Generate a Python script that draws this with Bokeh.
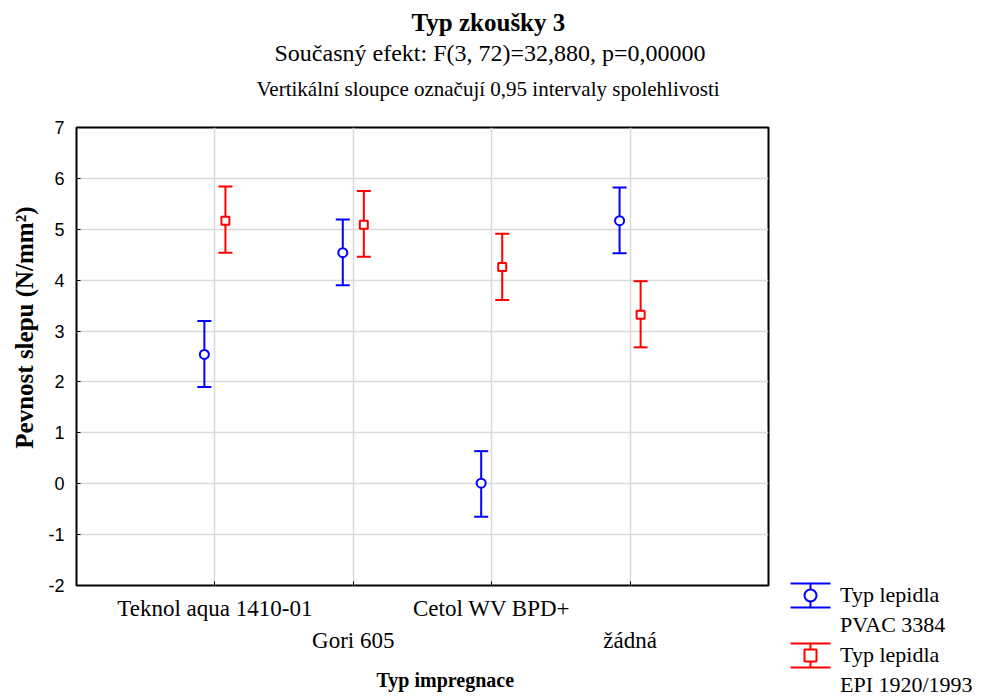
from bokeh.plotting import figure
from bokeh.models import (Range1d, LinearAxis, FixedTicker, Whisker, TeeHead, Title,
                          ColumnDataSource, Grid, Legend, LegendItem)
from bokeh.transform import dodge
from bokeh.embed import file_html
from bokeh.resources import INLINE

# ---------------- data ----------------
categories = ["Teknol aqua 1410-01", "Gori 605", "Cetol WV BPD+", "žádná"]
cat_pos = [1, 2, 3, 4]

pvac_mean = [2.54, 4.54, 0.01, 5.17]
pvac_lower = [1.90, 3.90, -0.65, 4.53]
pvac_upper = [3.20, 5.19, 0.64, 5.82]

epi_mean = [5.17, 5.09, 4.26, 3.32]
epi_lower = [4.54, 4.46, 3.61, 2.68]
epi_upper = [5.84, 5.75, 4.91, 3.98]

y_ticks = [-2, -1, 0, 1, 2, 3, 4, 5, 6, 7]
y_tick_labels = {-2: "-2", -1: "-1"}

title_text = "Typ zkoušky 3"
subtitle_text = "Současný efekt: F(3, 72)=32,880, p=0,00000"
note_text = "Vertikální sloupce označují 0,95 intervaly spolehlivosti"
x_title = "Typ impregnace"
y_title = "Pevnost slepu (N/mm²)"
legend_lines = [["Typ lepidla", "PVAC 3384"], ["Typ lepidla", "EPI 1920/1993"]]

SERIF = "Liberation Serif"
SANS = "Liberation Sans"
BLUE = "#0000ff"
RED = "#ff0000"

FL, FR, FT, FB = 76, 218, 127, 114
FW, FH = 692, 458

p = figure(frame_width=FW, frame_height=FH,
           x_range=Range1d(0, 5), y_range=Range1d(-2, 7),
           x_axis_type=None, y_axis_type=None, title=None,
           output_backend="svg", toolbar_location=None,
           min_border_left=FL, min_border_right=FR,
           min_border_top=FT, min_border_bottom=FB)
p.outline_line_color = "black"
p.outline_line_width = 2
p.background_fill_color = "white"
p.border_fill_color = "white"

# ---------------- titles (stacked above the frame) ----------------
# invisible spacing band between the frame and the title block
spacer = LinearAxis(ticker=FixedTicker(ticks=[2.5]), major_label_overrides={2.5: ""},
                    major_tick_out=20, major_tick_in=0,
                    major_tick_line_color=None, minor_tick_line_color=None,
                    axis_line_color=None, major_label_standoff=0,
                    major_label_text_font_size="0px")
p.add_layout(spacer, "above")
p.add_layout(Title(text=note_text, align="left", offset=180, vertical_align="bottom",
                   standoff=12.9, text_font=SERIF, text_font_size="21px",
                   text_font_style="normal", text_color="black"), "above")
p.add_layout(Title(text=subtitle_text, align="left", offset=198, vertical_align="bottom",
                   standoff=5.3, text_font=SERIF, text_font_size="24px",
                   text_font_style="normal", text_color="black"), "above")
p.add_layout(Title(text=title_text, align="left", offset=335, vertical_align="bottom",
                   standoff=0, text_font=SERIF, text_font_size="25px",
                   text_font_style="bold", text_color="black"), "above")

# ---------------- y axis ----------------
yax = LinearAxis(ticker=FixedTicker(ticks=y_ticks), major_label_overrides=y_tick_labels)
yax.axis_line_color = None
yax.major_tick_in = 4
yax.major_tick_out = 0
yax.major_tick_line_color = "black"
yax.minor_tick_line_color = None
yax.major_label_text_font = SANS
yax.major_label_text_font_size = "18px"
yax.major_label_text_color = "black"
yax.major_label_standoff = 12
p.add_layout(yax, "left")
p.add_layout(Title(text=y_title, align="right", offset=79, vertical_align="top",
                   standoff=11, text_font=SERIF, text_font_size="25px",
                   text_font_style="bold", text_color="black"), "left")

# ---------------- x axes (staggered labels) ----------------
xax1 = LinearAxis(ticker=FixedTicker(ticks=cat_pos),
                  major_label_overrides={1: categories[0], 2: "", 3: categories[2], 4: ""})
xax1.axis_line_color = None
xax1.major_tick_in = 4
xax1.major_tick_out = 0
xax1.major_tick_line_color = "black"
xax1.minor_tick_line_color = None
xax1.major_label_text_font = SERIF
xax1.major_label_text_font_size = "23px"
xax1.major_label_text_color = "black"
xax1.major_label_standoff = 10
p.add_layout(xax1, "below")

xax2 = LinearAxis(ticker=FixedTicker(ticks=[2, 4]),
                  major_label_overrides={2: categories[1], 4: categories[3]})
xax2.axis_line_color = None
xax2.major_tick_line_color = None
xax2.minor_tick_line_color = None
xax2.major_tick_in = 0
xax2.major_tick_out = 0
xax2.major_label_text_font = SERIF
xax2.major_label_text_font_size = "23px"
xax2.major_label_text_color = "black"
xax2.major_label_standoff = 4
p.add_layout(xax2, "below")
p.add_layout(Title(text=x_title, align="left", offset=300, vertical_align="bottom",
                   standoff=23, text_font=SERIF, text_font_size="20px",
                   text_font_style="bold", text_color="black"), "below")

# ---------------- grids ----------------
p.add_layout(Grid(dimension=1, ticker=FixedTicker(ticks=y_ticks),
                  grid_line_color="#d9d9d9", grid_line_width=1.5))
p.add_layout(Grid(dimension=0, ticker=FixedTicker(ticks=cat_pos),
                  grid_line_color="#d9d9d9", grid_line_width=1.5))

# ---------------- series ----------------
pvac_src = ColumnDataSource(dict(x=cat_pos, mean=pvac_mean, lower=pvac_lower, upper=pvac_upper))
epi_src = ColumnDataSource(dict(x=cat_pos, mean=epi_mean, lower=epi_lower, upper=epi_upper))

legend_items = []
for src, off, col, marker, msize, labels in [(pvac_src, -0.076, BLUE, "circle", 9, legend_lines[0]),
                                             (epi_src, 0.076, RED, "square", 8, legend_lines[1])]:
    w = Whisker(source=src, base=dodge("x", off), upper="upper", lower="lower",
                dimension="height", line_color=col, line_width=2, level="underlay",
                upper_head=TeeHead(size=14, line_color=col, line_width=2),
                lower_head=TeeHead(size=14, line_color=col, line_width=2))
    p.add_layout(w)
    sc = p.scatter(x=dodge("x", off), y="mean", source=src, marker=marker, size=msize,
                   line_color=col, line_width=2, fill_color="white")
    # legend-only helpers (kept outside the visible range): caps + stem of the error bar
    caps = p.rect(x=[-10], y=[0], width=1, height=1, fill_alpha=0, line_color=col,
                  line_width=2, line_dash="40 24")
    stem = p.ellipse(x=[-10], y=[0], width=0.001, height=1, fill_alpha=0,
                     line_color=col, line_width=2)
    blank = p.scatter(x=[-10], y=[0], size=1, alpha=0)
    legend_items.append(LegendItem(label=labels[0], renderers=[caps, stem, sc]))
    legend_items.append(LegendItem(label=labels[1], renderers=[blank]))

legend = Legend(items=legend_items, location=(17, -115), orientation="vertical",
                glyph_width=50, glyph_height=30, label_height=30, label_standoff=5,
                spacing=0, padding=0, margin=0, border_line_color=None,
                background_fill_alpha=0, label_text_font=SERIF,
                label_text_font_size="22px", label_text_color="black")
p.add_layout(legend, "right")

open("out.html", "w").write(file_html(p, INLINE))
